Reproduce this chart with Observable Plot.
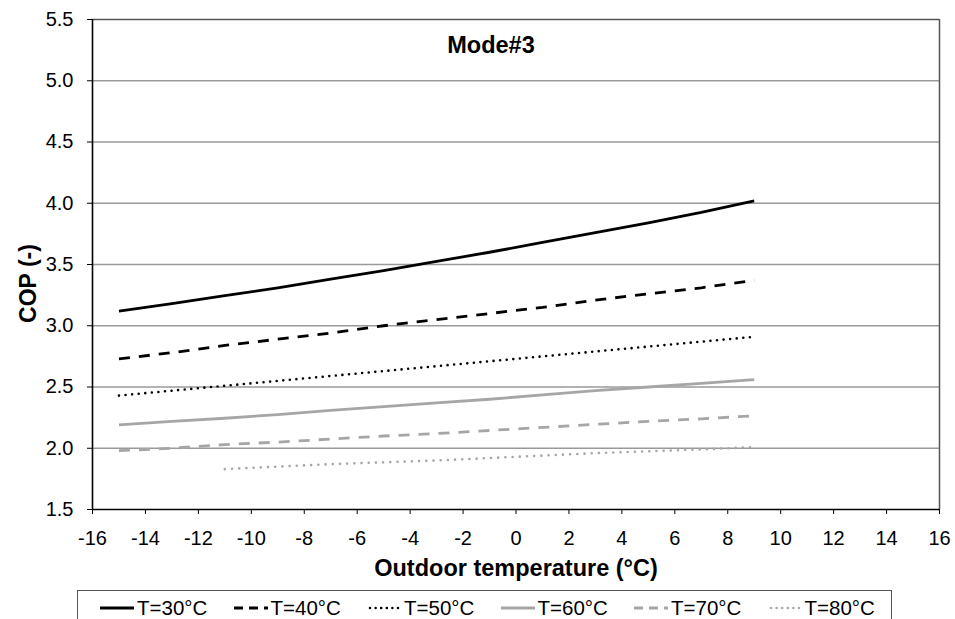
<!DOCTYPE html>
<html>
<head>
<meta charset="utf-8">
<script src="https://cdn.jsdelivr.net/npm/d3@7"></script>
<script src="https://cdn.jsdelivr.net/npm/@observablehq/plot@0.6"></script>
<style>
  body { margin: 0; background: #fff; font-family: "Liberation Sans", Arial, sans-serif; }
  #chart svg { display: block; }
  #legend {
    position: absolute; left: 77px; top: 590px; width: 815px; height: 40px;
    border: 1px solid #555; box-sizing: border-box; background: #fff;
  }
  .item { position: absolute; top: 0; height: 33px; display: flex; align-items: center;
    font-size: 20.5px; color: #000; white-space: nowrap; }
  .item svg { margin-right: 3px; }
</style>
</head>
<body>
<div id="chart"></div>
<div id="legend"></div>
<script>
// ---- data ----
const chartTitle = "Mode#3";
const xLabel = "Outdoor temperature (°C)";
const yLabel = "COP (-)";
const seriesNames = ["T=30°C", "T=40°C", "T=50°C", "T=60°C", "T=70°C", "T=80°C"];
const outdoorTemp = [-15, -13, -11, -9, -7, -5, -3, -1, 1, 3, 5, 7, 9];
const outdoorTemp80 = [-11, -9, -7, -5, -3, -1, 1, 3, 5, 7, 9];
const cop30 = [3.12, 3.18, 3.245, 3.31, 3.38, 3.45, 3.525, 3.60, 3.68, 3.76, 3.84, 3.925, 4.02];
const cop40 = [2.73, 2.78, 2.84, 2.89, 2.94, 3.00, 3.05, 3.10, 3.15, 3.21, 3.26, 3.31, 3.37];
const cop50 = [2.43, 2.47, 2.51, 2.55, 2.59, 2.63, 2.67, 2.71, 2.75, 2.79, 2.83, 2.87, 2.91];
const cop60 = [2.19, 2.22, 2.245, 2.275, 2.31, 2.34, 2.37, 2.40, 2.435, 2.47, 2.50, 2.53, 2.56];
const cop70 = [1.98, 2.00, 2.03, 2.05, 2.075, 2.10, 2.12, 2.145, 2.17, 2.195, 2.22, 2.24, 2.265];
const cop80 = [1.83, 1.85, 1.87, 1.885, 1.90, 1.92, 1.94, 1.96, 1.975, 1.99, 2.01];
const xTicks = [-16, -14, -12, -10, -8, -6, -4, -2, 0, 2, 4, 6, 8, 10, 12, 14, 16];
const yTicks = [1.5, 2.0, 2.5, 3.0, 3.5, 4.0, 4.5, 5.0, 5.5];

// ---- styles (kept apart from data) ----
const black = "#000", gray = "#a6a6a6";
const styles = [
  {stroke: black, kind: "solid", width: 2.8, dash: null},
  {stroke: black, kind: "dash", width: 2.8, dash: "11,9"},
  {stroke: black, kind: "dot", width: 2.6, dash: "0,6.6"},
  {stroke: gray, kind: "solid", width: 2.8, dash: null},
  {stroke: gray, kind: "dash", width: 2.8, dash: "11,9"},
  {stroke: gray, kind: "dot", width: 2.6, dash: "0,7.2"}
];

const seriesX = [outdoorTemp, outdoorTemp, outdoorTemp, outdoorTemp, outdoorTemp, outdoorTemp80];
const seriesY = [cop30, cop40, cop50, cop60, cop70, cop80];
const tables = seriesNames.map((name, i) =>
  seriesX[i].map((t, j) => ({series: name, t, cop: seriesY[i][j]})));

const font = '"Liberation Sans", Arial, sans-serif';
const xMin = xTicks[0], xMax = xTicks[xTicks.length - 1];
const yMin = yTicks[0], yMax = yTicks[yTicks.length - 1];

const plot = Plot.plot({
  width: 955,
  height: 590,
  marginLeft: 92,
  marginRight: 16,
  marginTop: 19,
  marginBottom: 81,
  style: {fontFamily: font, fontSize: "20px", color: "#000", background: "#fff"},
  x: {domain: [xMin, xMax], ticks: xTicks, tickSize: 5, tickPadding: 16, label: null,
      tickFormat: d => String(d)},
  y: {domain: [yMin, yMax], ticks: yTicks, tickSize: 5, tickPadding: 14, label: null,
      tickFormat: d3.format(".1f")},
  marks: [
    Plot.gridY(yTicks.filter(d => d > yMin && d < yMax), {stroke: "#9a9a9a", strokeOpacity: 1, strokeWidth: 1.3}),
    Plot.ruleY([yMax], {stroke: "#555", strokeWidth: 1.5}),
    Plot.ruleX([xMax], {stroke: "#555", strokeWidth: 1.5}),
    Plot.ruleX([xMin], {stroke: "#000", strokeWidth: 1.6}),
    Plot.ruleY([yMin], {stroke: "#000", strokeWidth: 1.6}),
    ...tables.map((rows, i) => Plot.line(rows, {
      x: "t", y: "cop",
      stroke: styles[i].stroke,
      strokeWidth: styles[i].width,
      strokeDasharray: styles[i].dash,
      strokeLinecap: styles[i].kind === "dot" ? "round" : "butt"
    })),
    Plot.text([chartTitle], {text: d => d, frameAnchor: "top", dx: -25, dy: 26,
      lineAnchor: "middle", textAnchor: "middle",
      fontSize: 23.5, fontWeight: "bold", fill: "#000"}),
    Plot.text([xLabel], {text: d => d, frameAnchor: "bottom", dy: 59,
      lineAnchor: "middle", textAnchor: "middle",
      fontSize: 23.5, fontWeight: "bold", fill: "#000"}),
    Plot.text([yLabel], {text: d => d, frameAnchor: "bottom-left", dx: -64, dy: -226, rotate: -90,
      lineAnchor: "middle", textAnchor: "middle",
      fontSize: 23, fontWeight: "bold", fill: "#000"})
  ]
});
document.getElementById("chart").appendChild(plot);

// ---- legend ----
const legend = d3.select("#legend");
seriesNames.forEach((name, i) => {
  const st = styles[i];
  const item = legend.append("div").attr("class", "item")
    .style("left", (22 + i * 133.5) + "px");
  const sw = item.append("svg").attr("width", 34).attr("height", 12);
  sw.append("line")
    .attr("x1", st.kind === "dot" ? 3 : 0).attr("x2", 34)
    .attr("y1", 6).attr("y2", 6)
    .attr("stroke", st.stroke)
    .attr("stroke-width", st.width)
    .attr("stroke-dasharray", st.kind === "dash" ? "9,6" : st.kind === "dot" ? "0,5.6" : null)
    .attr("stroke-linecap", st.kind === "dot" ? "round" : "butt");
  item.append("span").text(name);
});
</script>
</body>
</html>
